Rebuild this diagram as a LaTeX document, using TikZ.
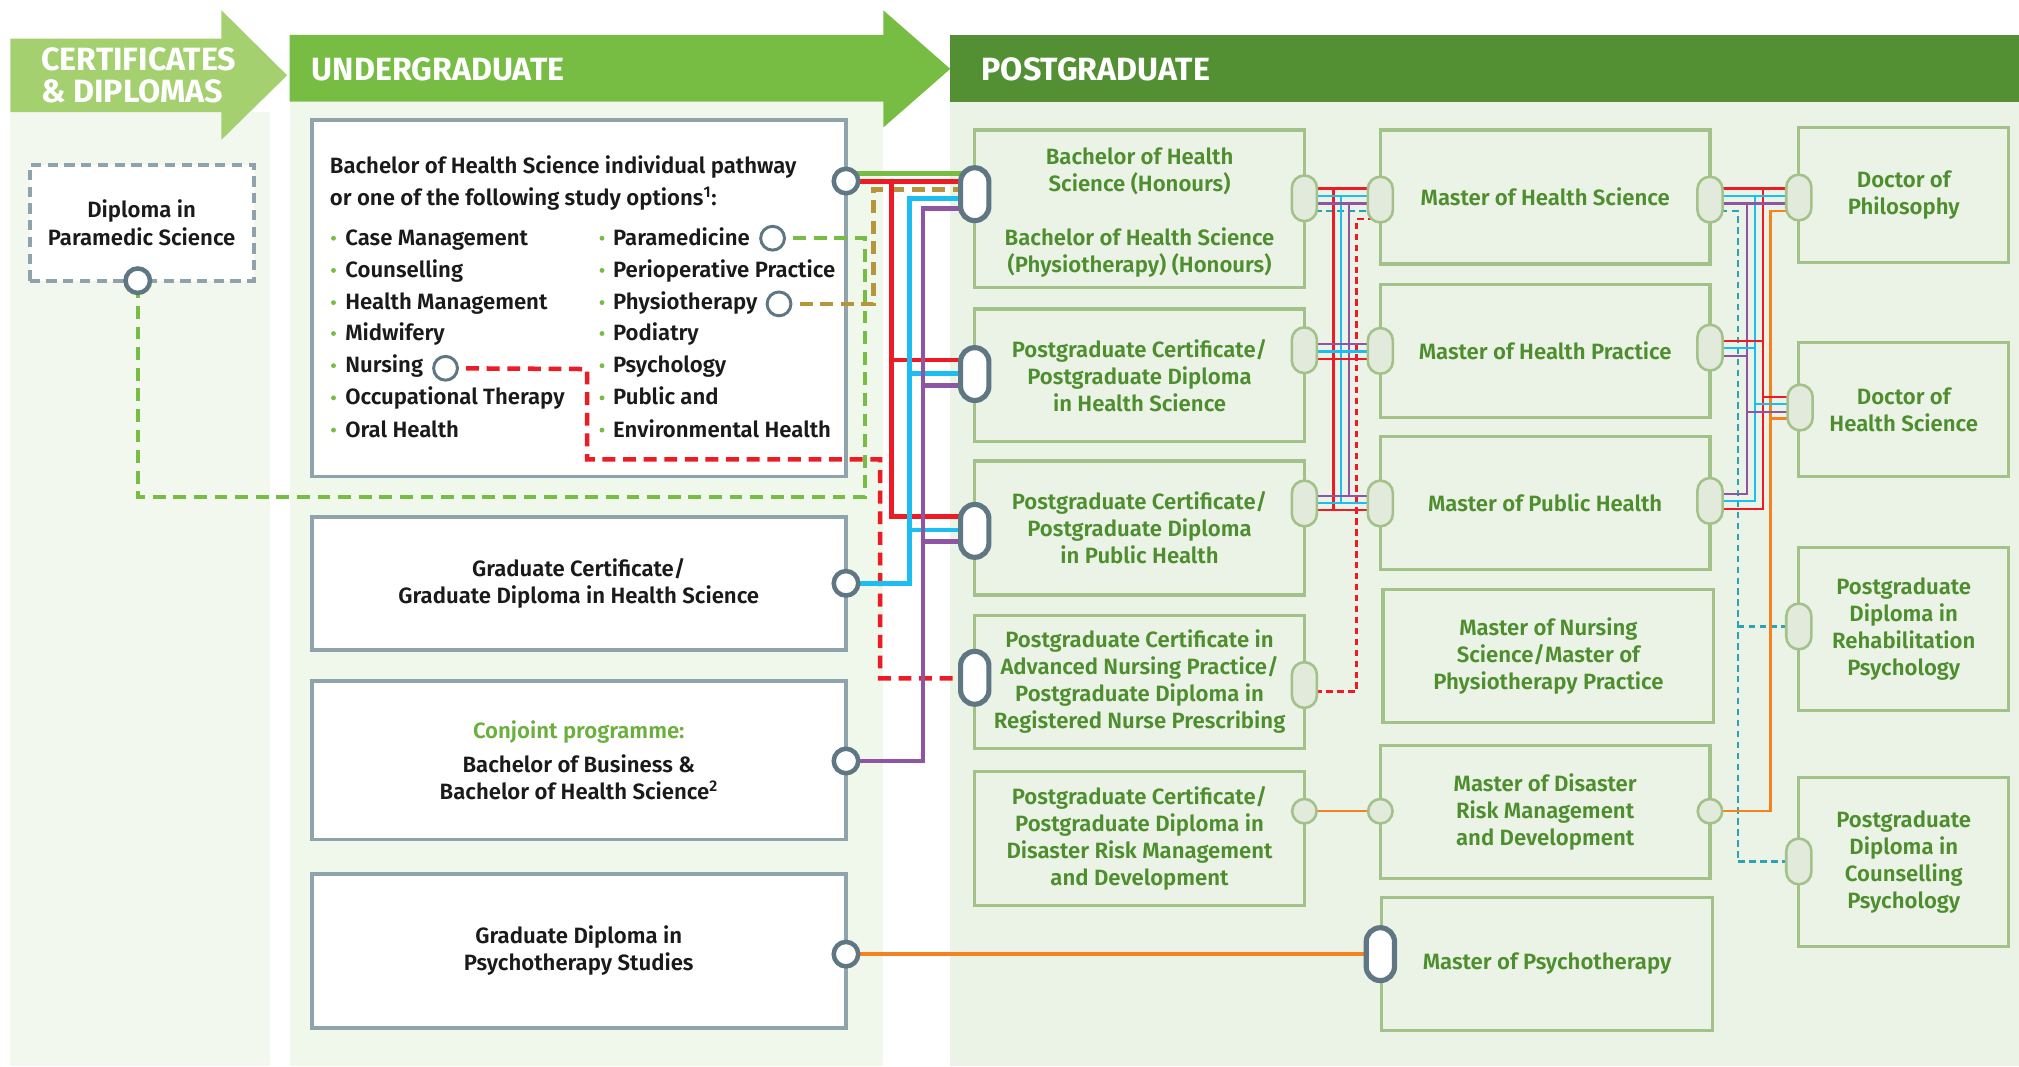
\documentclass[tikz,border=0pt]{standalone}
\usepackage{fontspec}
\setmainfont{Fira Sans}[UprightFont={* SemiBold},BoldFont={* Bold}]
\pgfdeclarelayer{bg}
\pgfdeclarelayer{lines}
\pgfsetlayers{bg,lines,main}
\definecolor{certgreen}{HTML}{A4D070}
\definecolor{ugreen}{HTML}{77BC43}
\definecolor{pgreen}{HTML}{538F33}
\definecolor{certbg}{HTML}{F2F8EE}
\definecolor{ubg}{HTML}{F0F7EB}
\definecolor{pbg}{HTML}{EBF3E6}
\definecolor{boxgray}{HTML}{8FA3AC}
\definecolor{slate}{HTML}{5F7783}
\definecolor{pborder}{HTML}{A3C28A}
\definecolor{ptext}{HTML}{4E8E2F}
\definecolor{pillfill}{HTML}{E2EADB}
\definecolor{lred}{HTML}{ED1C24}
\definecolor{lcyan}{HTML}{1CBDF0}
\definecolor{lpurple}{HTML}{8F55A5}
\definecolor{lorange}{HTML}{F5821F}
\definecolor{lgold}{HTML}{B7953D}
\definecolor{lteal}{HTML}{2BA3B4}
\definecolor{conjgreen}{HTML}{6BAF3D}
\definecolor{ink}{HTML}{1A1A1A}
\begin{document}
\begin{tikzpicture}[x=1pt,y=-1pt,
  font=\fontsize{17.2}{21}\selectfont,
  ubox/.style={draw=boxgray, line width=3pt, fill=white, inner sep=0pt, text=ink, align=center},
  pbox/.style={draw=pborder, line width=2.5pt, inner sep=0pt, text=ptext, align=center},
  utxt/.style={text=ink, inner sep=0pt, anchor=base west},
  ptxt/.style={text=ptext, align=center, inner sep=0pt},
  hdr/.style={text=white, font=\fontsize{25}{25}\selectfont\bfseries, inner sep=0pt, anchor=west, align=left},
  dpill/.style={rectangle, draw=slate, fill=white, line width=4pt, rounded corners=10.9pt, minimum width=22pt, minimum height=41pt, inner sep=0pt},
  lpill/.style={rectangle, draw=pborder, fill=pillfill, line width=2pt, rounded corners=9.7pt, minimum width=19.5pt, minimum height=35.5pt, inner sep=0pt},
  lcirc/.style={circle, draw=pborder, fill=pillfill, line width=2pt, minimum size=19pt, inner sep=0pt},
  ucirc/.style={circle, draw=slate, fill=white, line width=3.5pt, minimum size=19pt, inner sep=0pt},
  scirc/.style={circle, draw=slate, fill=white, line width=2.3pt, minimum size=18.5pt, inner sep=0pt},
  thk/.style={line width=3.5pt},
  bus/.style={line width=1.8pt},
  tdash/.style={draw=lteal, line width=1.8pt, dash pattern=on 5pt off 3.5pt},
  rbusdash/.style={draw=lred, line width=1.8pt, dash pattern=on 5pt off 3.5pt},
  thkdash/.style={line width=3.5pt, dash pattern=on 10pt off 6pt}
]
\useasboundingbox (0,0) rectangle (1568,828);

\begin{pgfonlayer}{bg}
\fill[white] (0,0) rectangle (1568,828);
% column backgrounds
\fill[certbg] (8,87) rectangle (210,828);
\fill[ubg] (225,79) rectangle (686,828);
\fill[pbg] (738,79) rectangle (1568,828);
% banners
\fill[certgreen] (8,30) -- (172,30) -- (172,8) -- (223,58.5) -- (172,108.5) -- (172,87) -- (8,87) -- cycle;
\fill[ugreen] (225,27) -- (686,27) -- (686,8) -- (738,53.5) -- (686,99) -- (686,79) -- (225,79) -- cycle;
\fill[pgreen] (738,27) rectangle (1568,79);
\node[hdr] (hcert) at (32,58.5) {CERTIFICATES\\\& DIPLOMAS};
\node[hdr] (hund) at (242,54) {UNDERGRADUATE};
\node[hdr] (hpost) at (762,54) {POSTGRADUATE};

% certificate box
\node[draw=boxgray, line width=3pt, dash pattern=on 8pt off 5pt, fill=white, minimum width=174pt, minimum height=90pt, inner sep=0pt, align=center, text=ink] (cert) at (110,173) {Diploma in\\Paramedic Science};

% undergraduate boxes
\node[ubox, minimum width=415pt, minimum height=277pt] (U1) at (449.5,231.5) {};
\node[utxt] (t0a) at (256,134.5) {Bachelor of Health Science individual pathway};
\node[utxt] (t0b) at (256,159.5) {or one of the following study options\textsuperscript{1}:};
\node[utxt] (tl1) at (268,190.5) {Case Management};
\node[utxt] (tl2) at (268,215.5) {Counselling};
\node[utxt] (tl3) at (268,240.5) {Health Management};
\node[utxt] (tl4) at (268,264.5) {Midwifery};
\node[utxt] (tl5) at (268,289.5) {Nursing};
\node[utxt] (tl6) at (268,314.5) {Occupational Therapy};
\node[utxt] (tl7) at (268,339.5) {Oral Health};
\node[utxt] (tr1) at (476,190.5) {Paramedicine};
\node[utxt] (tr2) at (476,215.5) {Perioperative Practice};
\node[utxt] (tr3) at (476,240.5) {Physiotherapy};
\node[utxt] (tr4) at (476,264.5) {Podiatry};
\node[utxt] (tr5) at (476,289.5) {Psychology};
\node[utxt] (tr6) at (476,314.5) {Public and};
\node[utxt] (tr7) at (476,339.5) {Environmental Health};
\foreach \yy in {185,210,235,259,284,309,334}{
  \fill[ugreen] (259,\yy) circle (1.9);
  \fill[ugreen] (467.5,\yy) circle (1.9);
}
\node[ubox, minimum width=415pt, minimum height=103pt] (U2) at (449.5,453) {Graduate Certificate/\\Graduate Diploma in Health Science};
\node[ubox, minimum width=415pt, minimum height=123pt] (U3) at (449.5,590.5) {{\color{conjgreen}Conjoint programme:}\\[5pt]Bachelor of Business \&\\Bachelor of Health Science\textsuperscript{2}};
\node[ubox, minimum width=415pt, minimum height=120pt] (U4) at (449.5,738.5) {Graduate Diploma in\\Psychotherapy Studies};

% postgraduate column 1
\node[pbox, minimum width=256pt, minimum height=122pt] (P1) at (885,162) {};
\node[ptxt] (P1a) at (885,133) {Bachelor of Health\\Science (Honours)};
\node[ptxt] (P1b) at (885,196) {Bachelor of Health Science\\(Physiotherapy) (Honours)};
\node[pbox, minimum width=256pt, minimum height=103pt] (P2) at (885,291.5) {Postgraduate Certificate/\\Postgraduate Diploma\\in Health Science};
\node[pbox, minimum width=256pt, minimum height=104pt] (P3) at (885,410) {Postgraduate Certificate/\\Postgraduate Diploma\\in Public Health};
\node[pbox, minimum width=256pt, minimum height=103pt] (P4) at (885,529.5) {Postgraduate Certificate in\\Advanced Nursing Practice/\\Postgraduate Diploma in\\Registered Nurse Prescribing};
\node[pbox, minimum width=256pt, minimum height=104pt] (P5) at (885,651) {Postgraduate Certificate/\\Postgraduate Diploma in\\Disaster Risk Management\\and Development};
% column 2
\node[pbox, minimum width=256pt, minimum height=104pt] (M1) at (1200,153) {Master of Health Science};
\node[pbox, minimum width=256pt, minimum height=103pt] (M2) at (1200,272.5) {Master of Health Practice};
\node[pbox, minimum width=256pt, minimum height=103pt] (M3) at (1200,390.5) {Master of Public Health};
\node[pbox, minimum width=257pt, minimum height=103pt] (M4) at (1202.5,509.5) {Master of Nursing\\Science/Master of\\Physiotherapy Practice};
\node[pbox, minimum width=256pt, minimum height=103pt] (M5) at (1200,630.5) {Master of Disaster\\Risk Management\\and Development};
\node[pbox, minimum width=257pt, minimum height=103pt] (M6) at (1201.5,748.5) {Master of Psychotherapy};
% column 3
\node[pbox, minimum width=163pt, minimum height=105pt] (D1) at (1478.5,151.5) {Doctor of\\Philosophy};
\node[pbox, minimum width=163pt, minimum height=104pt] (D2) at (1478.5,318) {Doctor of\\Health Science};
\node[pbox, minimum width=163pt, minimum height=127pt] (D3) at (1478.5,488.5) {Postgraduate\\Diploma in\\Rehabilitation\\Psychology};
\node[pbox, minimum width=163pt, minimum height=131pt] (D4) at (1478.5,669.5) {Postgraduate\\Diploma in\\Counselling\\Psychology};
\end{pgfonlayer}

% connector ends
\node[ucirc] (Cc) at (107,218) {};
\node[ucirc] (U1c) at (657,140.6) {};
\node[ucirc] (U2c) at (657,453) {};
\node[ucirc] (U3c) at (657,591) {};
\node[ucirc] (U4c) at (657,741) {};
\node[scirc] (sPara) at (600,185) {};
\node[scirc] (sPhys) at (605,236) {};
\node[scirc] (sNurs) at (346,286) {};
\node[dpill] (P1L) at (757,150.8) {};
\node[dpill] (P2L) at (757,290.5) {};
\node[dpill] (P3L) at (757,412.3) {};
\node[dpill] (P4L) at (757,526.4) {};
\node[dpill] (M6L) at (1072,741) {};
\node[lpill] (P1R) at (1013,154) {};
\node[lpill] (P2R) at (1013,272) {};
\node[lpill] (P3R) at (1013,391) {};
\node[lpill] (P4R) at (1013,532) {};
\node[lcirc] (P5R) at (1013,630) {};
\node[lpill] (M1L) at (1072,155) {};
\node[lpill] (M2L) at (1072,272.5) {};
\node[lpill] (M3L) at (1072,391) {};
\node[lcirc] (M5L) at (1072,630) {};
\node[lpill] (M1R) at (1328,155) {};
\node[lpill] (M2R) at (1328,270) {};
\node[lpill] (M3R) at (1328,389) {};
\node[lcirc] (M5R) at (1328,630) {};
\node[lpill] (D1L) at (1397,153.4) {};
\node[lpill] (D2L) at (1398,316.5) {};
\node[lpill] (D3L) at (1397,486.5) {};
\node[lpill] (D4L) at (1397,669) {};

\begin{pgfonlayer}{lines}
% ---- undergraduate -> postgraduate column 1
\draw[thkdash, draw=ugreen] (sPara.center) -- (671.8,185) -- (671.8,386) -- (107,386) -- (Cc.center);
\draw[thkdash, draw=lgold] (sPhys.center) -- (678.5,236) -- (678.5,147) -- (P1L.center |- 0,147);
\draw[thkdash, draw=lred] (sNurs.center) -- (456,286.6) -- (456,356.7) -- (683.5,356.7) -- (683.5,526.8) -- (P4L.center |- 0,526.8);
\draw[thk, draw=ugreen] (U1c.center |- 0,134.6) -- (P1L.center |- 0,134.6);
\draw[thk, draw=lred] (U1c.center |- 0,141.1) -- (P1L.center |- 0,141.1);
\draw[thk, draw=lred] (692.5,141.1) -- (692.5,401.3) -- (P3L.center |- 0,401.3);
\draw[thk, draw=lred] (692.5,279.6) -- (P2L.center |- 0,279.6);
\draw[thk, draw=lcyan] (U2c.center) -- (706.5,453) -- (706.5,154) -- (P1L.center |- 0,154);
\draw[thk, draw=lcyan] (706.5,290) -- (P2L.center |- 0,290);
\draw[thk, draw=lcyan] (706.5,411.6) -- (P3L.center |- 0,411.6);
\draw[thk, draw=lpurple] (U3c.center) -- (717,591) -- (717,161.8) -- (P1L.center |- 0,161.8);
\draw[thk, draw=lpurple] (717,299.3) -- (P2L.center |- 0,299.3);
\draw[thk, draw=lpurple] (717,420.7) -- (P3L.center |- 0,420.7);
\draw[thk, draw=lorange] (U4c.center) -- (M6L.center);
% ---- column 1 -> column 2
\draw[tdash] (P1R.center |- 0,164) -- (M1L.center |- 0,164);
\draw[rbusdash] (P4R.center |- 0,537) -- (1053.5,537) -- (1053.5,170) -- (M1L.center |- 0,170);
\draw[bus, draw=lred] (1035.6,146.5) -- (1035.6,396);
\draw[bus, draw=lcyan] (1041.5,152) -- (1041.5,390.5);
\draw[bus, draw=lpurple] (1047.5,158) -- (1047.5,385);
\draw[bus, draw=lred] (P1R.center |- 0,146.5) -- (M1L.center |- 0,146.5);
\draw[bus, draw=lcyan] (P1R.center |- 0,152) -- (M1L.center |- 0,152);
\draw[bus, draw=lpurple] (P1R.center |- 0,158) -- (M1L.center |- 0,158);
\draw[bus, draw=lpurple] (P2R.center |- 0,267) -- (M2L.center |- 0,267);
\draw[bus, draw=lcyan] (P2R.center |- 0,273) -- (M2L.center |- 0,273);
\draw[bus, draw=lred] (P2R.center |- 0,279) -- (M2L.center |- 0,279);
\draw[bus, draw=lpurple] (P3R.center |- 0,385) -- (M3L.center |- 0,385);
\draw[bus, draw=lcyan] (P3R.center |- 0,390.5) -- (M3L.center |- 0,390.5);
\draw[bus, draw=lred] (P3R.center |- 0,396) -- (M3L.center |- 0,396);
\draw[bus, draw=lorange] (P5R.center) -- (M5L.center);
% ---- column 2 -> column 3
\draw[tdash] (M1R.center |- 0,164) -- (1349.5,164) -- (1349.5,669) -- (D4L.center |- 0,669);
\draw[tdash] (1349.5,486.5) -- (D3L.center |- 0,486.5);
\draw[bus, draw=lorange] (M5R.center) -- (1375,630) -- (1375,164) -- (D1L.center |- 0,164);
\draw[bus, draw=lorange] (1375,325) -- (D2L.center |- 0,325);
\draw[bus, draw=lred] (M3R.center |- 0,395.3) -- (1369,395.3) -- (1369,146.5);
\draw[bus, draw=lcyan] (M3R.center |- 0,389.1) -- (1363,389.1) -- (1363,152);
\draw[bus, draw=lpurple] (M3R.center |- 0,383.7) -- (1357,383.7) -- (1357,158);
\draw[bus, draw=lred] (M1R.center |- 0,146.5) -- (D1L.center |- 0,146.5);
\draw[bus, draw=lcyan] (M1R.center |- 0,152) -- (D1L.center |- 0,152);
\draw[bus, draw=lpurple] (M1R.center |- 0,158) -- (D1L.center |- 0,158);
\draw[bus, draw=lred] (M2R.center |- 0,265) -- (1369,265);
\draw[bus, draw=lcyan] (M2R.center |- 0,270.5) -- (1363,270.5);
\draw[bus, draw=lpurple] (M2R.center |- 0,276.5) -- (1357,276.5);
\draw[bus, draw=lred] (1369,308.3) -- (D2L.center |- 0,308.3);
\draw[bus, draw=lcyan] (1363,314) -- (D2L.center |- 0,314);
\draw[bus, draw=lpurple] (1357,319.7) -- (D2L.center |- 0,319.7);
\end{pgfonlayer}
\end{tikzpicture}
\end{document}
